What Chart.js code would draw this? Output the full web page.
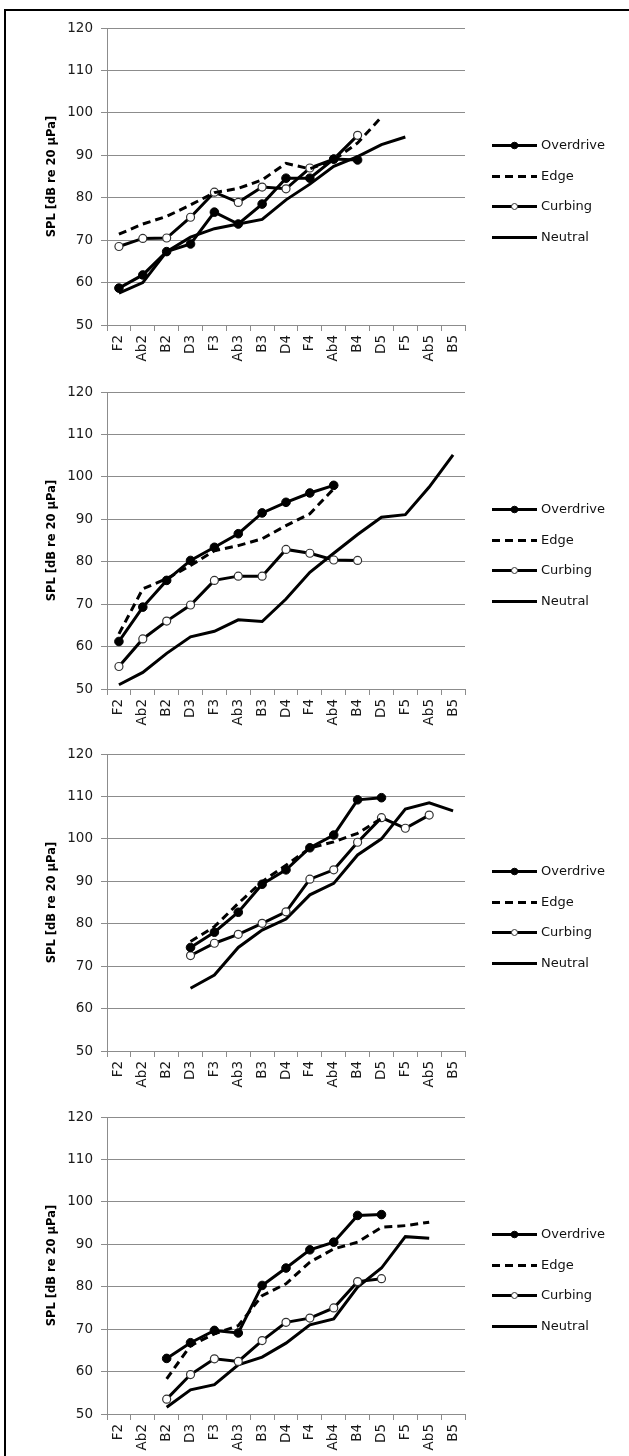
<!DOCTYPE html>
<html><head><meta charset="utf-8">
<script src="https://cdn.jsdelivr.net/npm/chart.js@4"></script>
<style>
html,body{margin:0;padding:0;background:#fff;}
body{width:629px;height:1456px;position:relative;overflow:hidden;}
#frame{position:absolute;left:4px;top:9px;width:640px;height:1460px;border-left:2px solid #000;border-top:2px solid #000;}
.c{position:absolute;left:0;width:629px;height:364px;}
</style></head><body>
<div id="frame"></div>
<div class="c" style="top:0"><canvas id="c1" width="629" height="364"></canvas></div>
<div class="c" style="top:364px"><canvas id="c2" width="629" height="364"></canvas></div>
<div class="c" style="top:726px"><canvas id="c3" width="629" height="364"></canvas></div>
<div class="c" style="top:1089px"><canvas id="c4" width="629" height="364"></canvas></div>
<script>
const categories = ['F2','Ab2','B2','D3','F3','Ab3','B3','D4','F4','Ab4','B4','D5','F5','Ab5','B5'];
const seriesNames = ['Overdrive','Edge','Curbing','Neutral'];
const yTicks = [50,60,70,80,90,100,110,120];
const yTitle = 'SPL [dB re 20 µPa]';
const n = null;

const p1Overdrive = [58.7,61.8,67.3,69.1,76.6,73.8,78.5,84.6,84.6,89.1,88.9,n,n,n,n];
const p1Edge      = [71.4,73.8,75.6,78.3,81.2,82.2,84.2,88.1,86.8,88.9,92.9,99.0,n,n,n];
const p1Curbing   = [68.5,70.4,70.5,75.4,81.3,78.9,82.5,82.1,87.0,89.1,94.7,n,n,n,n];
const p1Neutral   = [57.5,60.0,67.3,70.7,72.7,73.8,74.9,79.5,83.2,87.4,89.7,92.5,94.3,n,n];

const p2Overdrive = [61.2,69.3,75.6,80.3,83.4,86.6,91.5,94.0,96.2,98.0,n,n,n,n,n];
const p2Edge      = [63.0,73.6,76.0,79.1,82.6,83.8,85.4,88.5,91.3,97.2,n,n,n,n,n];
const p2Curbing   = [55.3,61.8,66.0,69.8,75.6,76.6,76.6,82.9,82.0,80.4,80.3,n,n,n,n];
const p2Neutral   = [51.0,53.9,58.4,62.3,63.6,66.3,65.9,71.2,77.5,82.0,86.4,90.5,91.1,97.6,105.2];

const p3Overdrive = [n,n,n,74.4,78.0,82.7,89.3,92.7,97.9,100.9,109.2,109.7,n,n,n];
const p3Edge      = [n,n,n,75.8,79.3,84.8,89.9,93.8,97.8,99.3,101.3,104.8,n,n,n];
const p3Curbing   = [n,n,n,72.5,75.4,77.5,80.1,82.8,90.5,92.7,99.2,105.0,102.5,105.6,n];
const p3Neutral   = [n,n,n,64.8,67.9,74.4,78.5,81.1,86.8,89.5,96.2,100.0,107.0,108.5,106.6];

const p4Overdrive = [n,n,63.1,66.8,69.7,69.1,80.3,84.4,88.7,90.5,96.8,97.0,n,n,n];
const p4Edge      = [n,n,58.3,66.1,68.9,70.8,77.9,80.7,85.8,88.9,90.5,94.0,94.4,95.2,n];
const p4Curbing   = [n,n,53.5,59.3,63.0,62.4,67.3,71.6,72.6,75.0,81.2,81.9,n,n,n];
const p4Neutral   = [n,n,51.6,55.7,56.9,61.6,63.4,66.7,71.0,72.4,79.9,84.4,91.8,91.4,n];

const panels = [
  [p1Overdrive,p1Edge,p1Curbing,p1Neutral],
  [p2Overdrive,p2Edge,p2Curbing,p2Neutral],
  [p3Overdrive,p3Edge,p3Curbing,p3Neutral],
  [p4Overdrive,p4Edge,p4Curbing,p4Neutral]
];

const styles = [
  {borderDash:[], pointRadius:4.3, pointBackgroundColor:'#000', pointBorderColor:'#000', pointBorderWidth:1, legendR:3.3},
  {borderDash:[8,5], pointRadius:0, pointBackgroundColor:'#000', pointBorderColor:'#000', pointBorderWidth:0, legendR:0},
  {borderDash:[], pointRadius:4, pointBackgroundColor:'#fff', pointBorderColor:'#333', pointBorderWidth:1.2, legendR:3},
  {borderDash:[], pointRadius:0, pointBackgroundColor:'#000', pointBorderColor:'#000', pointBorderWidth:0, legendR:0}
];

const legendPlugin = {
  id:'customLegend',
  afterDraw(chart){
    const ctx = chart.ctx;
    const top = chart.chartArea.top;
    chart.data.datasets.forEach((ds,i)=>{
      const y = Math.round(top + 117 + i*30.7) + 0.5;
      ctx.save();
      ctx.strokeStyle = '#000';
      ctx.lineWidth = 3;
      ctx.setLineDash(ds.borderDash || []);
      ctx.beginPath(); ctx.moveTo(492,y); ctx.lineTo(537,y); ctx.stroke();
      ctx.setLineDash([]);
      if (ds.legendR > 0) {
        ctx.beginPath(); ctx.arc(514.5,y,ds.legendR,0,2*Math.PI);
        ctx.fillStyle = ds.pointBackgroundColor; ctx.fill();
        ctx.lineWidth = 1; ctx.strokeStyle = ds.pointBorderColor; ctx.stroke();
      }
      ctx.fillStyle = '#111';
      ctx.font = '13px "DejaVu Sans"';
      ctx.textBaseline = 'middle';
      ctx.textAlign = 'left';
      ctx.fillText(ds.label, 541, y);
      ctx.restore();
    });
  }
};

const tickFont = {family:'DejaVu Sans', size:13.5};
const gridColor = '#8c8c8c';

panels.forEach((series, pi) => {
  const datasets = series.map((vals, si) => Object.assign({
    label: seriesNames[si],
    data: vals,
    borderColor: '#000',
    borderWidth: 3,
    tension: 0,
    fill: false,
    spanGaps: false
  }, styles[si]));
  new Chart(document.getElementById('c'+(pi+1)), {
    type:'line',
    data:{labels:categories, datasets},
    plugins:[legendPlugin],
    options:{
      responsive:false,
      animation:false,
      devicePixelRatio:1,
      layout:{padding:{top:28,right:164,left:0,bottom:0}},
      plugins:{legend:{display:false}, tooltip:{enabled:false}},
      scales:{
        x:{
          offset:true,
          ticks:{minRotation:90,maxRotation:90,autoSkip:false,padding:4,color:'#1a1a1a',font:tickFont},
          grid:{offset:true,drawOnChartArea:false,drawTicks:true,tickLength:6,color:gridColor,lineWidth:1},
          border:{color:gridColor,width:1},
          afterFit(s){ s.height = 39; }
        },
        y:{
          min:50,max:120,
          afterBuildTicks(s){ s.ticks = yTicks.map(v=>({value:v})); },
          ticks:{padding:8,color:'#1a1a1a',font:tickFont},
          grid:{color:gridColor,lineWidth:1,tickLength:6,drawTicks:true},
          border:{color:gridColor,width:1},
          title:{display:true,text:yTitle,color:'#000',font:{family:'DejaVu Sans',size:11.5,weight:'bold'},padding:{top:45,bottom:0}},
          afterFit(s){ s.width = 107; }
        }
      }
    }
  });
});
</script>
</body></html>
